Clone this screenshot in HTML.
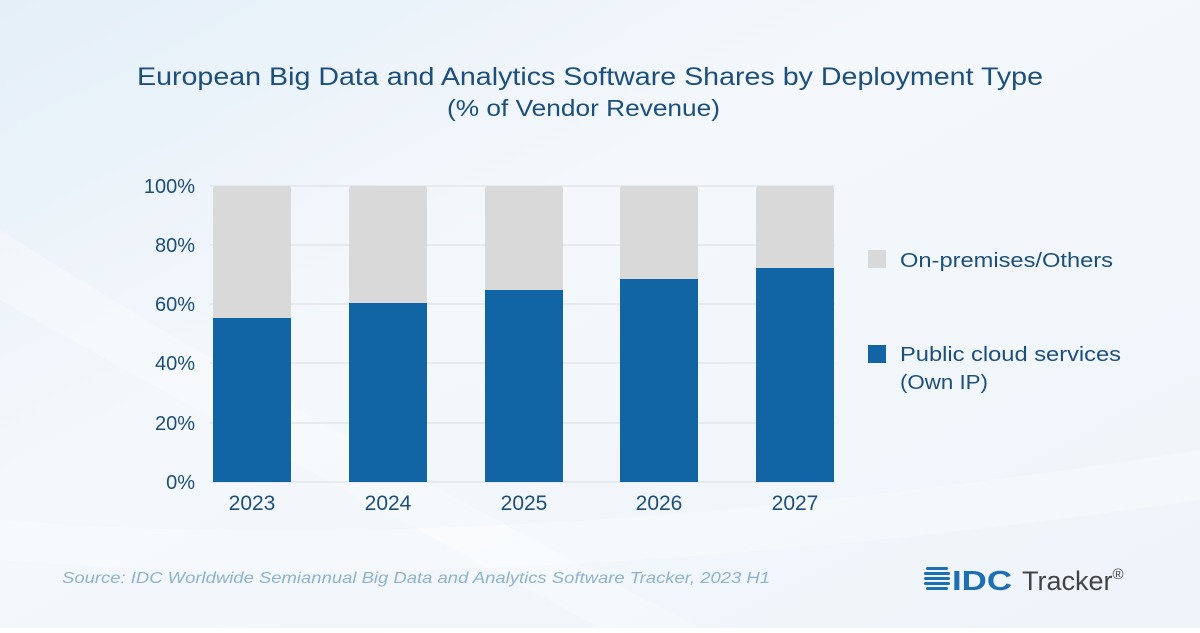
<!DOCTYPE html>
<html><head><meta charset="utf-8"><style>
body{margin:0;width:1200px;height:628px;overflow:hidden;font-family:"Liberation Sans",sans-serif}
</style></head><body>
<svg width="1200" height="628" xmlns="http://www.w3.org/2000/svg">
<defs>
<linearGradient id="bg" x1="0" y1="0" x2="1" y2="1">
<stop offset="0" stop-color="#e4eff8"/><stop offset="0.4" stop-color="#f4f8fc"/><stop offset="1" stop-color="#eef4fa"/>
</linearGradient>
</defs>
<rect width="1200" height="628" fill="url(#bg)"/>
<path d="M0 230 Q300 420 700 628 L600 628 Q250 440 0 300Z" fill="#ffffff" opacity="0.3"/>
<path d="M0 520 Q500 560 1200 450 L1200 500 Q500 600 0 560Z" fill="#ffffff" opacity="0.3"/>
<text x="137" y="85" textLength="906" lengthAdjust="spacingAndGlyphs" font-size="25" fill="#1d4f7a">European Big Data and Analytics Software Shares by Deployment Type</text>
<text x="447" y="116" textLength="273" lengthAdjust="spacingAndGlyphs" font-size="23" fill="#1d4f7a">(% of Vendor Revenue)</text>
<g stroke="#d8dde2" stroke-width="1">
<line x1="210" y1="186" x2="835" y2="186"/><line x1="210" y1="245" x2="835" y2="245"/>
<line x1="210" y1="304" x2="835" y2="304"/><line x1="210" y1="363" x2="835" y2="363"/>
<line x1="210" y1="423" x2="835" y2="423"/><line x1="210" y1="482" x2="835" y2="482"/>
</g>
<g font-size="20" fill="#1d4f7a" text-anchor="end">
<text x="195" y="193">100%</text><text x="195" y="252">80%</text><text x="195" y="311">60%</text>
<text x="195" y="370">40%</text><text x="195" y="430">20%</text><text x="195" y="489">0%</text>
</g>
<g fill="#d9d9d9">
<rect x="213" y="186" width="78" height="296" rx="3"/><rect x="349" y="186" width="78" height="296" rx="3"/>
<rect x="485" y="186" width="78" height="296" rx="3"/><rect x="620" y="186" width="78" height="296" rx="3"/>
<rect x="756" y="186" width="78" height="296" rx="3"/>
</g>
<g fill="#1265a5">
<rect x="213" y="318" width="78" height="164"/><rect x="349" y="303" width="78" height="179"/>
<rect x="485" y="290" width="78" height="192"/><rect x="620" y="279" width="78" height="203"/>
<rect x="756" y="268" width="78" height="214"/>
</g>
<g font-size="21" fill="#1d4f7a" text-anchor="middle">
<text x="252" y="510">2023</text><text x="388" y="510">2024</text><text x="524" y="510">2025</text>
<text x="659" y="510">2026</text><text x="795" y="510">2027</text>
</g>
<rect x="868" y="250" width="18" height="18" fill="#d9d9d9"/>
<text x="900" y="267" font-size="20" textLength="213" lengthAdjust="spacingAndGlyphs" fill="#1d4f7a">On-premises/Others</text>
<rect x="868" y="345" width="18" height="18" fill="#1265a5"/>
<text x="900" y="361" font-size="20" textLength="221" lengthAdjust="spacingAndGlyphs" fill="#1d4f7a">Public cloud services</text>
<text x="900" y="389" font-size="20" textLength="88" lengthAdjust="spacingAndGlyphs" fill="#1d4f7a">(Own IP)</text>
<text x="62" y="583" font-size="16" textLength="708" lengthAdjust="spacingAndGlyphs" font-style="italic" fill="#8fb2cf">Source: IDC Worldwide Semiannual Big Data and Analytics Software Tracker, 2023 H1</text>
<g fill="#1d6eb3">
<rect x="926" y="567" width="22" height="3" rx="1.5"/><rect x="924" y="572" width="26" height="3" rx="1.5"/>
<rect x="924" y="577" width="26" height="3" rx="1.5"/><rect x="924" y="582" width="26" height="3" rx="1.5"/>
<rect x="926" y="587" width="22" height="3" rx="1.5"/>
</g>
<text x="952" y="590" font-size="28" font-weight="bold" textLength="60" lengthAdjust="spacingAndGlyphs" fill="#1d6eb3">IDC</text>
<text x="1022" y="590" font-size="27" fill="#444">Tracker<tspan font-size="15" dy="-11">®</tspan></text>
</svg>
</body></html>
